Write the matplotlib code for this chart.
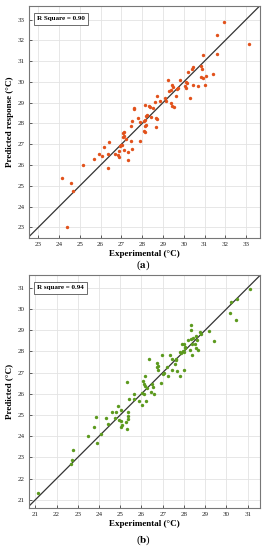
import numpy as np
import matplotlib
matplotlib.use("Agg")
import matplotlib.pyplot as plt

plt.rcParams['font.family'] = ['Liberation Serif', 'DejaVu Serif']
plt.rcParams['mathtext.fontset'] = 'stix'

# panel (a): experimental vs predicted response
exp_a = [31.95, 31.62, 33.16, 31.60, 30.94, 30.43, 30.39, 30.22, 30.85, 30.90,
         31.43, 30.82, 30.92, 31.09, 31.04, 30.69, 30.43, 29.23, 29.82, 30.13,
         30.16, 29.74, 29.66, 30.06, 30.10, 29.45, 29.49, 29.40, 29.28, 29.63,
         30.29, 28.70, 29.09, 29.13, 28.85, 28.63, 29.38, 29.44, 29.52, 27.59,
         27.62, 28.15, 28.31, 28.38, 28.51, 28.22, 28.19, 27.51, 27.80, 28.15,
         28.41, 28.67, 28.72, 27.88, 28.10, 28.20, 28.15, 27.45, 28.68, 27.14,
         27.09, 28.09, 28.12, 27.22, 27.13, 27.06, 27.48, 27.90, 26.40, 26.18,
         26.97, 27.04, 26.92, 27.13, 27.51, 26.87, 25.91, 26.08, 26.37, 26.68,
         26.84, 26.89, 27.33, 25.70, 27.33, 26.36, 25.15, 24.13, 24.57, 24.67,
         24.38]
pred_a = [32.90, 32.26, 31.81, 31.36, 31.30, 30.70, 30.64, 30.47, 30.78, 30.60,
          30.38, 30.22, 30.20, 30.28, 29.85, 29.82, 29.87, 30.08, 30.11, 30.01,
          29.94, 29.70, 29.67, 29.79, 29.70, 29.83, 29.75, 29.61, 29.54, 29.34,
          29.22, 29.30, 29.22, 29.10, 29.10, 29.03, 29.00, 28.84, 28.79, 28.74,
          28.69, 28.90, 28.86, 28.79, 28.73, 28.40, 28.37, 28.10, 28.26, 28.15,
          28.29, 28.28, 28.19, 28.05, 28.11, 27.94, 27.86, 27.86, 27.84, 27.60,
          27.52, 27.63, 27.57, 27.23, 27.39, 27.34, 27.15, 27.17, 27.12, 26.89,
          26.96, 26.94, 26.93, 26.73, 26.78, 26.69, 26.51, 26.45, 26.54, 26.54,
          26.47, 26.39, 26.64, 26.28, 26.25, 25.85, 26.00, 25.35, 25.14, 24.77,
          23.00]

# panel (b): experimental vs predicted
exp_b = [31.09, 30.48, 30.23, 30.18, 30.43, 28.33, 28.33, 29.18, 28.77, 28.80,
         28.58, 28.41, 28.20, 28.33, 28.61, 29.40, 27.92, 28.02, 28.53, 28.38,
         28.06, 28.03, 27.95, 28.00, 27.80, 27.85, 28.57, 28.67, 28.28, 28.39,
         26.95, 27.34, 27.45, 27.64, 27.62, 27.56, 26.35, 26.73, 26.78, 26.73,
         26.78, 27.21, 27.45, 27.66, 28.02, 27.05, 27.00, 27.26, 27.80, 26.18,
         25.30, 26.06, 26.12, 26.18, 26.27, 26.53, 26.48, 26.92, 26.45, 26.04,
         26.12, 26.59, 25.65, 25.40, 25.63, 26.21, 24.89, 25.90, 26.04, 24.63,
         24.80, 25.05, 25.35, 25.36, 24.33, 23.84, 24.74, 24.96, 25.02, 25.38,
         25.26, 24.41, 25.07, 25.03, 25.32, 23.76, 23.50, 24.11, 23.90, 22.79,
         22.71, 22.70, 21.14]
pred_b = [30.94, 30.47, 30.35, 29.81, 29.49, 29.22, 29.00, 28.94, 28.92, 28.83,
          28.74, 28.63, 28.55, 28.56, 28.55, 28.47, 28.36, 28.37, 28.37, 28.33,
          28.20, 28.14, 28.03, 27.97, 27.97, 27.92, 28.16, 28.08, 28.08, 27.83,
          27.83, 27.84, 27.64, 27.64, 27.59, 27.42, 27.64, 27.43, 27.31, 27.26,
          27.13, 27.24, 27.10, 27.08, 27.10, 27.00, 26.94, 26.86, 26.85, 26.85,
          26.55, 26.60, 26.46, 26.36, 26.27, 26.32, 26.47, 26.50, 26.08, 26.06,
          26.01, 26.00, 26.00, 25.75, 25.75, 25.68, 25.42, 25.68, 25.47, 25.14,
          25.14, 25.23, 25.14, 24.96, 24.88, 24.92, 24.85, 24.77, 24.71, 24.81,
          24.68, 24.57, 24.52, 24.44, 24.36, 24.44, 24.02, 24.08, 23.69, 23.33,
          22.87, 22.68, 21.34]

fig = plt.figure(figsize=(2.67, 5.5), dpi=100)
ax1 = fig.add_axes([0.1086, 0.5678, 0.8652, 0.4212])
ax2 = fig.add_axes([0.1075, 0.0758, 0.8663, 0.4242])


def panel(ax, x, y, color, lims, ticks, ylabel, rtext):
    ax.set_xlim(lims[0])
    ax.set_ylim(lims[1])
    lo = min(lims[0][0], lims[1][0])
    hi = max(lims[0][1], lims[1][1])
    ax.plot([lo, hi], [lo, hi], color='#333333', lw=0.9, zorder=2)
    ax.scatter(x, y, s=6, color=color, zorder=3, linewidths=0)
    ax.set_xticks(ticks[0])
    ax.set_yticks(ticks[1])
    ax.grid(True, color='#e3e3e3', lw=0.6)
    ax.set_axisbelow(True)
    ax.tick_params(labelsize=5, length=2, width=0.5, direction='in', pad=3,
                   colors='#222222')
    for s in ax.spines.values():
        s.set_color('#777777')
        s.set_linewidth(0.8)
    ax.set_xlabel('Experimental (°C)', fontsize=6.5, fontweight='bold', labelpad=2)
    ax.set_ylabel(ylabel, fontsize=6.5, fontweight='bold', labelpad=3)
    ax.text(0.035, 0.955, rtext, transform=ax.transAxes, fontsize=5,
            fontweight='bold', va='top', ha='left',
            bbox=dict(boxstyle='square,pad=0.45', fc='white', ec='#555555', lw=0.6))


panel(ax1, exp_a, pred_a, '#e2521c', ((22.55, 33.67), (22.5, 33.65)),
      (range(23, 34), range(23, 34)), 'Predicted response (°C)', 'R Square = 0.90')
panel(ax2, exp_b, pred_b, '#5c9a1e', ((20.69, 31.58), (20.6, 31.6)),
      (range(21, 32), range(21, 32)), 'Predicted (°C)', 'R square = 0.94')

fig.text(0.536, 0.517, r'($\mathbf{a}$)', ha='center', va='center', fontsize=8)
fig.text(0.536, 0.018, r'($\mathbf{b}$)', ha='center', va='center', fontsize=8)

fig.savefig('out.png', dpi=100)
